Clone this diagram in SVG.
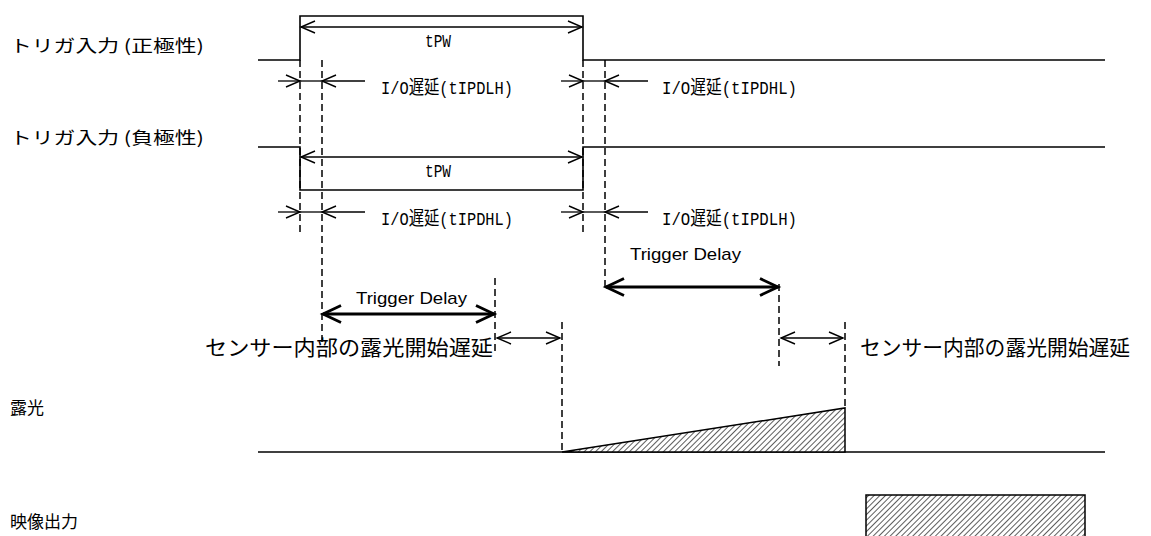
<svg xmlns="http://www.w3.org/2000/svg" width="1151" height="536" viewBox="0 0 1151 536">
<style>
.w{fill:none;stroke:#000;stroke-width:1.6}
.d{fill:none;stroke:#000;stroke-width:1.5;stroke-dasharray:7 4}
.a{fill:none;stroke:#000;stroke-width:1.3}
.t{fill:none;stroke:#000;stroke-width:2.8}
.lbl{font-family:"Noto Sans CJK JP",sans-serif;font-size:17px;font-weight:400;fill:#000}
.mono{font-family:"Liberation Mono","Noto Sans CJK JP",monospace;font-size:19px;fill:#000}
.en{font-family:"Liberation Sans",Arial,sans-serif;font-size:17px;fill:#000}
.big{font-family:"Noto Sans CJK JP",sans-serif;font-size:21px;fill:#000}
</style>
<defs>
<marker id="v" markerUnits="userSpaceOnUse" markerWidth="22" markerHeight="22" viewBox="-18 -11 22 22" refX="0" refY="0" orient="auto-start-reverse">
<path d="M-14,-6 L0,0 L-14,6" fill="none" stroke="#000" stroke-width="1.4"/>
</marker>
<marker id="vt" markerUnits="userSpaceOnUse" markerWidth="28" markerHeight="28" viewBox="-23 -14 28 28" refX="0" refY="0" orient="auto-start-reverse">
<path d="M-18,-8.5 L0,0 L-18,8.5" fill="none" stroke="#000" stroke-width="2.8"/>
</marker>
<pattern id="hatch" patternUnits="userSpaceOnUse" width="4" height="4" patternTransform="rotate(45)">
<rect width="4" height="4" fill="#fff"/>
<line x1="0" y1="0" x2="0" y2="4" stroke="#333" stroke-width="1.6"/>
</pattern>
</defs>
<rect width="1151" height="536" fill="#fff"/>

<g id="labels">
<text class="lbl" x="10" y="52" textLength="194" lengthAdjust="spacingAndGlyphs">トリガ入力 (正極性)</text>
<text class="lbl" x="10" y="144" textLength="194" lengthAdjust="spacingAndGlyphs">トリガ入力 (負極性)</text>
<text class="lbl" x="10" y="414">露光</text>
<text class="lbl" x="10" y="528">映像出力</text>
</g>

<g id="pos-trigger">
<polyline class="w" points="258,60 300,60 300,16 583,16 583,60 1105,60"/>
</g>
<g id="neg-trigger">
<polyline class="w" points="258,147 300,147 300,190 583,190 583,147 1105,147"/>
</g>
<g id="exposure">
<line class="w" x1="258" y1="452" x2="1105" y2="452"/>
<polygon points="562,452 845,408 845,452" fill="url(#hatch)" stroke="#000" stroke-width="1.5"/>
</g>
<g id="video-out">
<rect x="866" y="495" width="219" height="50" fill="url(#hatch)" stroke="#000" stroke-width="1.5"/>
</g>

<g id="connectors">
<line class="d" x1="300" y1="60" x2="300" y2="232"/>
<line class="d" x1="322" y1="60" x2="322" y2="346"/>
<line class="d" x1="583" y1="60" x2="583" y2="232"/>
<line class="d" x1="605" y1="60" x2="605" y2="288"/>
<line class="d" x1="495" y1="278" x2="495" y2="352"/>
<line class="d" x1="562" y1="322" x2="562" y2="452"/>
<line class="d" x1="779" y1="284" x2="779" y2="366"/>
<line class="d" x1="845" y1="322" x2="845" y2="408"/>

<line class="a" x1="301" y1="27" x2="582" y2="27" marker-start="url(#v)" marker-end="url(#v)"/>
<line class="a" x1="301" y1="157" x2="582" y2="157" marker-start="url(#v)" marker-end="url(#v)"/>

<line class="a" x1="278" y1="81" x2="300" y2="81" marker-end="url(#v)"/>
<line class="a" x1="300" y1="81" x2="322" y2="81"/>
<line class="a" x1="365" y1="81" x2="322" y2="81" marker-end="url(#v)"/>
<line class="a" x1="561" y1="81" x2="583" y2="81" marker-end="url(#v)"/>
<line class="a" x1="583" y1="81" x2="605" y2="81"/>
<line class="a" x1="648" y1="81" x2="605" y2="81" marker-end="url(#v)"/>

<line class="a" x1="278" y1="212" x2="300" y2="212" marker-end="url(#v)"/>
<line class="a" x1="300" y1="212" x2="322" y2="212"/>
<line class="a" x1="365" y1="212" x2="322" y2="212" marker-end="url(#v)"/>
<line class="a" x1="561" y1="212" x2="583" y2="212" marker-end="url(#v)"/>
<line class="a" x1="583" y1="212" x2="605" y2="212"/>
<line class="a" x1="648" y1="212" x2="605" y2="212" marker-end="url(#v)"/>

<line class="t" x1="323" y1="314" x2="494" y2="314" marker-start="url(#vt)" marker-end="url(#vt)"/>
<line class="t" x1="606" y1="287" x2="778" y2="287" marker-start="url(#vt)" marker-end="url(#vt)"/>

<line class="a" x1="497" y1="338" x2="560" y2="338" marker-start="url(#v)" marker-end="url(#v)"/>
<line class="a" x1="781" y1="338" x2="843" y2="338" marker-start="url(#v)" marker-end="url(#v)"/>
</g>

<g id="texts">
<text class="mono" x="425" y="47" textLength="26" lengthAdjust="spacingAndGlyphs">tPW</text>
<text class="mono" x="425" y="177" textLength="26" lengthAdjust="spacingAndGlyphs">tPW</text>
<text class="mono" x="381" y="94" textLength="132" lengthAdjust="spacingAndGlyphs">I/O遅延(tIPDLH)</text>
<text class="mono" x="662" y="94" textLength="135" lengthAdjust="spacingAndGlyphs">I/O遅延(tIPDHL)</text>
<text class="mono" x="381" y="225" textLength="132" lengthAdjust="spacingAndGlyphs">I/O遅延(tIPDHL)</text>
<text class="mono" x="662" y="225" textLength="135" lengthAdjust="spacingAndGlyphs">I/O遅延(tIPDLH)</text>
<text class="en" x="356" y="304" textLength="111" lengthAdjust="spacingAndGlyphs">Trigger Delay</text>
<text class="en" x="630" y="260" textLength="111" lengthAdjust="spacingAndGlyphs">Trigger Delay</text>
<text class="big" x="205" y="355" textLength="288" lengthAdjust="spacingAndGlyphs">センサー内部の露光開始遅延</text>
<text class="big" x="860" y="355" textLength="270" lengthAdjust="spacingAndGlyphs">センサー内部の露光開始遅延</text>
</g>
</svg>
